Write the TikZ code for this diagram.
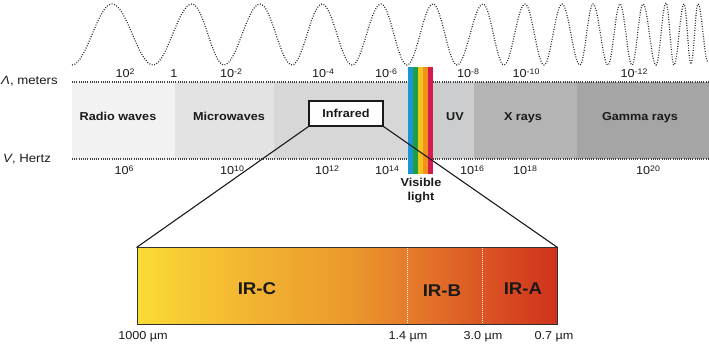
\documentclass[tikz,border=0pt]{standalone}
\usepackage{fontspec}
\setmainfont[FakeStretch=1.1]{Liberation Sans}
\newcommand\mysup[1]{\raisebox{3.4pt}{\fontsize{8}{8}\selectfont #1}}
\definecolor{txt}{HTML}{1A1A1A}
\definecolor{bandA}{HTML}{F2F2F2}
\definecolor{bandB}{HTML}{E3E3E3}
\definecolor{bandC}{HTML}{D7D7D7}
\definecolor{bandD}{HTML}{CBCDCF}
\definecolor{bandE}{HTML}{B4B4B4}
\definecolor{bandF}{HTML}{A5A5A5}
\definecolor{visB}{HTML}{1B95D5}
\definecolor{visG}{HTML}{1F9E48}
\definecolor{visY}{HTML}{F0C419}
\definecolor{visO}{HTML}{F1921E}
\definecolor{visR}{HTML}{D41C4C}
\definecolor{irA}{HTML}{FADC34}
\definecolor{irB}{HTML}{F3B632}
\definecolor{irC}{HTML}{EB9A2C}
\definecolor{irD}{HTML}{E3702A}
\definecolor{irE}{HTML}{DA4F22}
\definecolor{irF}{HTML}{D0321C}
\pgfdeclarehorizontalshading{irgrad}{100bp}{color(0bp)=(irA); color(25bp)=(irA); color(37.5bp)=(irB); color(50bp)=(irC); color(60bp)=(irD); color(67.5bp)=(irE); color(75bp)=(irF); color(100bp)=(irF)}
\tikzset{
  scalelbl/.style={font=\fontsize{11.5}{13}\selectfont, text=txt, inner sep=0pt, anchor=base},
  axislbl/.style={font=\fontsize{12}{14}\selectfont, text=txt, inner sep=0pt, anchor=base west},
  bandlbl/.style={font=\bfseries\fontsize{11.5}{13}\selectfont, text=txt, inner sep=0pt, anchor=base},
  irlbl/.style={font=\bfseries\fontsize{17}{19}\selectfont, text=txt, inner sep=0pt, anchor=base},
  umlbl/.style={font=\fontsize{11.5}{13}\selectfont, text=txt, inner sep=0pt, anchor=base},
  dotline/.style={draw=black!75, line width=1.1pt, dash pattern=on 0.9pt off 1.3pt},
  wave/.style={draw=black!85, line width=1.2pt, dash pattern=on 0.9pt off 1.6pt},
  conn/.style={draw=txt, line width=1.1pt},
  divider/.style={draw=white, line width=0.8pt, dash pattern=on 1pt off 1pt}
}
\begin{document}
\begin{tikzpicture}[x=1pt, y=-1pt]
\useasboundingbox (0,0) rectangle (709,344);
% wave
\draw[wave] (72,65) foreach \x/\y [remember=\x as \lx (initially 72), remember=\y as \ly (initially 65)] in {112/4,153/65,192/4,224/65,260/4,292/65,322/4,352/65,381/4,407/65,433/4,457/65,483/4,504/65,525/4,544/65,562/4,580/65,593/4,608/65,620/4,632/65,643/4,656/65,666/3,674/65,684/4,691/64,698/4,708/62} { .. controls ({\lx+0.36*(\x-\lx)},\ly) and ({\x-0.36*(\x-\lx)},\y) .. (\x,\y) };
% bands
\fill[bandA] (72,82) rectangle (175,159);
\fill[bandB] (175,82) rectangle (274,159);
\fill[bandC] (274,82) rectangle (433,159);
\fill[bandD] (433,82) rectangle (474,159);
\fill[bandE] (474,82) rectangle (577,159);
\fill[bandF] (577,82) rectangle (709,159);
\draw[dotline] (72,82) -- (709,82);
\draw[dotline] (72,159) -- (709,159);
% visible stripes
\foreach \c [count=\i from 0] in {visB,visG,visY,visO,visR}
  \fill[\c] ({408+5*\i},67) rectangle ({413+5*\i},174);
% axis labels
\node[axislbl] (lam) at (1,85) {\textit{Λ}, meters};
\node[axislbl] (nu) at (3,163) {\textit{V}, Hertz};
% wavelength scale
\node[scalelbl] (w1) at (125,78) {10\mysup{2}};
\node[scalelbl] (w2) at (174,78) {1};
\node[scalelbl] (w3) at (231,78) {10\mysup{-2}};
\node[scalelbl] (w4) at (323,78) {10\mysup{-4}};
\node[scalelbl] (w5) at (386,78) {10\mysup{-6}};
\node[scalelbl] (w6) at (468,78) {10\mysup{-8}};
\node[scalelbl] (w7) at (526,78) {10\mysup{-10}};
\node[scalelbl] (w8) at (634,78) {10\mysup{-12}};
% frequency scale
\node[scalelbl] (f1) at (124,175) {10\mysup{6}};
\node[scalelbl] (f2) at (232,175) {10\mysup{10}};
\node[scalelbl] (f3) at (327,175) {10\mysup{12}};
\node[scalelbl] (f4) at (387,175) {10\mysup{14}};
\node[scalelbl] (f5) at (472,175) {10\mysup{16}};
\node[scalelbl] (f6) at (525,175) {10\mysup{18}};
\node[scalelbl] (f7) at (648,175) {10\mysup{20}};
% band labels
\node[bandlbl] (radio) at (118,121) {Radio waves};
\node[bandlbl] (micro) at (229,121) {Microwaves};
\node[bandlbl] (uv) at (455,121) {UV};
\node[bandlbl] (xr) at (523,121) {X rays};
\node[bandlbl] (gam) at (640,121) {Gamma rays};
\node[bandlbl] (vis1) at (421,187) {Visible};
\node[bandlbl] (vis2) at (421,201) {light};
% infrared box
\node[draw=txt, fill=white, line width=1.1pt, minimum width=74pt, minimum height=25pt, inner sep=0pt, font=\bfseries\fontsize{11.5}{13}\selectfont, text=txt] (ir) at (346,113.5) {Infrared};
% IR bar
\node[draw=black!80, line width=1pt, shade, shading=irgrad, minimum width=420pt, minimum height=77pt, inner sep=0pt] (bar) at (347,286.5) {};
\draw[divider] (407,248.5) -- (407,324.5);
\draw[divider] (482,248.5) -- (482,324.5);
\draw[conn] (ir.south west) -- (bar.north west);
\draw[conn] (ir.south east) -- (bar.north east);
\node[irlbl] (irc) at (257,295) {IR-C};
\node[irlbl] (irb) at (442,297) {IR-B};
\node[irlbl] (ira) at (523,295) {IR-A};
\node[umlbl] (u1) at (143,340) {1000 µm};
\node[umlbl] (u2) at (408,340) {1.4 µm};
\node[umlbl] (u3) at (483,340) {3.0 µm};
\node[umlbl] (u4) at (554,340) {0.7 µm};
\end{tikzpicture}
\end{document}
